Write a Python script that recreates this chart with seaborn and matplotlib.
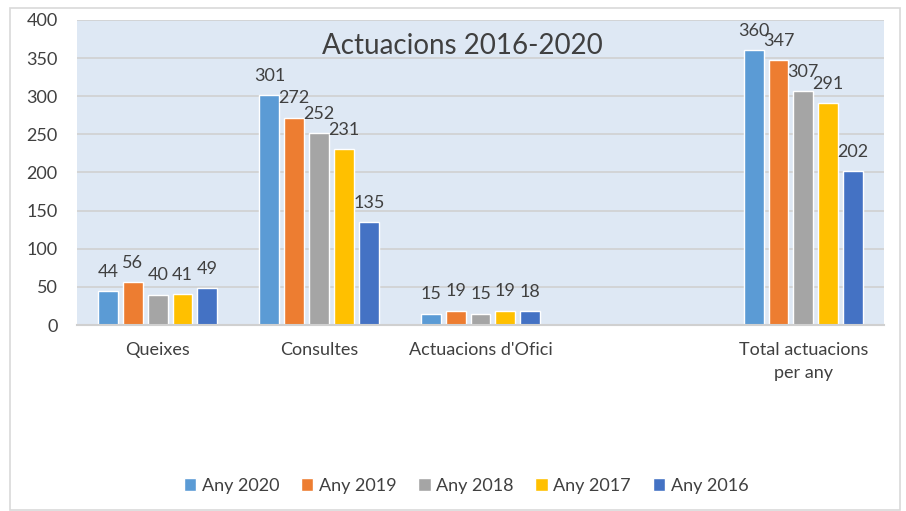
import matplotlib.pyplot as plt
import pandas as pd
import seaborn as sns
from matplotlib.patches import Rectangle

categories = ["Queixes", "Consultes", "Actuacions d'Ofici", "", "Total actuacions\nper any"]
years = ["Any 2020", "Any 2019", "Any 2018", "Any 2017", "Any 2016"]
any_2020 = [44, 301, 15, 360]
any_2019 = [56, 272, 19, 347]
any_2018 = [40, 252, 15, 307]
any_2017 = [41, 231, 19, 291]
any_2016 = [49, 135, 18, 202]
filled = ["Queixes", "Consultes", "Actuacions d'Ofici", "Total actuacions\nper any"]
colors = ["#5B9BD5", "#ED7D31", "#A5A5A5", "#FFC000", "#4472C4"]

rows = []
for year, vals in zip(years, [any_2020, any_2019, any_2018, any_2017, any_2016]):
    for cat, v in zip(filled, vals):
        rows.append({"categoria": cat, "any": year, "valor": v})
df = pd.DataFrame(rows)

sns.set_style("white")
plt.rcParams["font.family"] = ["Lato", "DejaVu Sans"]
text_color = "#404040"

fig = plt.figure(figsize=(9.06, 5.11), dpi=100)
fig.patches.append(Rectangle((10 / 906, 1 / 511), 890 / 906, 502 / 511, transform=fig.transFigure,
                             fill=False, edgecolor="#D9D9D9", linewidth=1.2))
ax = fig.add_axes([77 / 906, 186 / 511, 807 / 906, 305 / 511])
ax.set_facecolor("#DEE8F4")

sns.barplot(data=df, x="categoria", y="valor", hue="any", order=categories, hue_order=years,
            palette=colors, width=0.77, gap=0.2, saturation=1, ax=ax, legend=True)

for cont in ax.containers:
    ax.bar_label(cont, padding=8, fontsize=13, color=text_color)

ax.set_ylim(0, 400)
ax.set_yticks(range(0, 401, 50))
ax.yaxis.grid(True, color="#D0D0D0", linewidth=1.2)
ax.set_axisbelow(True)
for side in ["left", "right", "top"]:
    ax.spines[side].set_visible(False)
ax.spines["bottom"].set_color("#D0D0D0")
ax.spines["bottom"].set_linewidth(1.5)
ax.tick_params(axis="y", length=0, pad=14, labelsize=13, labelcolor=text_color)
ax.tick_params(axis="x", length=0, pad=12, labelsize=13, labelcolor=text_color)
for lab in ax.get_xticklabels():
    lab.set_linespacing(1.55)
ax.set_xlabel("")
ax.set_ylabel("")

ax.text(0.477, 0.915, "Actuacions 2016-2020", transform=ax.transAxes, ha="center", va="center",
        fontsize=20, color=text_color)

ax.legend(loc="center", bbox_to_anchor=(466 / 906, 25 / 511), bbox_transform=fig.transFigure,
          ncol=5, frameon=False, fontsize=13, handlelength=0.7, handleheight=0.7, handletextpad=0.3,
          columnspacing=1.2, labelcolor=text_color)

fig.savefig("out.png", dpi=100)
